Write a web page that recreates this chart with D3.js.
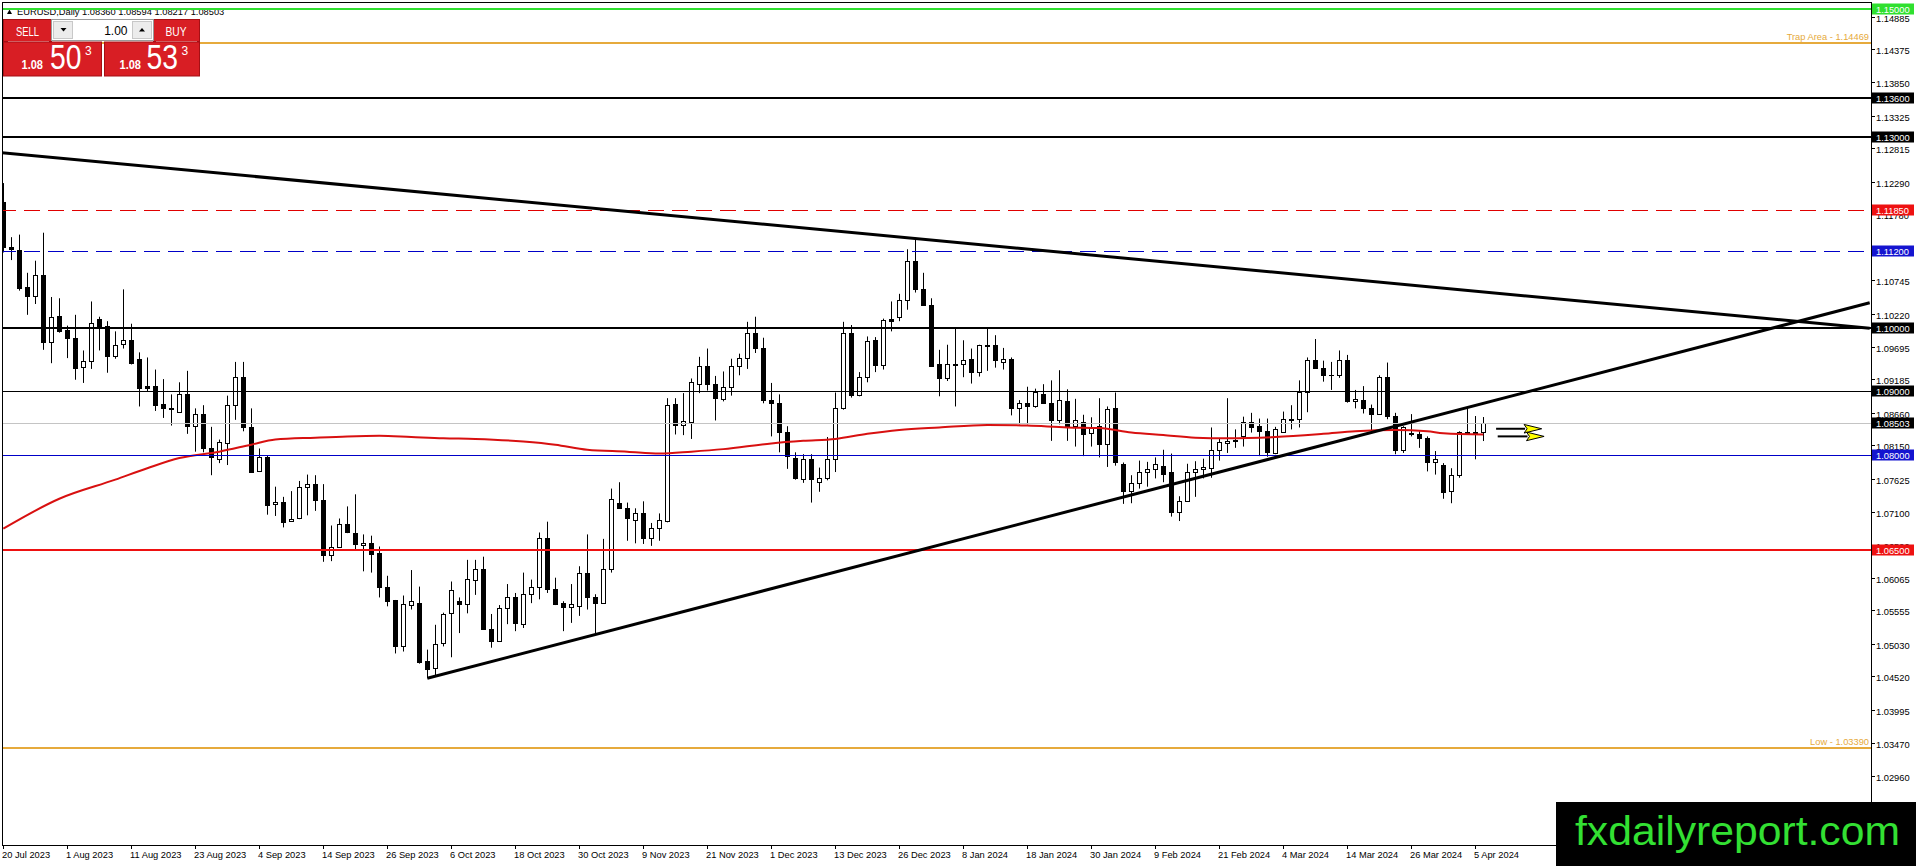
<!DOCTYPE html>
<html><head><meta charset="utf-8">
<script src="https://cdn.jsdelivr.net/npm/d3@7"></script>
<style>
html,body{margin:0;padding:0;background:#fff;overflow:hidden;}
svg{display:block;font-family:"Liberation Sans",Arial,sans-serif;}
</style></head><body>
<svg id="chart" width="1916" height="866"></svg>
<script>
// ---------------- DATA ----------------
const symbolTitle = "EURUSD,Daily";
const open = [1.1198,1.1126,1.1122,1.1063,1.1050,1.1083,1.0977,1.1018,1.0996,1.0983,
1.0938,1.0947,1.1013,1.1002,1.0955,1.0974,1.0981,1.0951,1.0908,1.0908,
1.0880,1.0874,1.0868,1.0895,1.0846,1.0864,1.0811,1.0794,1.0819,1.0879,
1.0923,1.0843,1.0775,1.0796,1.0722,1.0726,1.0696,1.0700,1.0750,1.0754,
1.0729,1.0642,1.0656,1.0692,1.0678,1.0658,1.0661,1.0646,1.0592,1.0572,
1.0500,1.0564,1.0568,1.0476,1.0465,1.0504,1.0552,1.0571,1.0566,1.0604,
1.0620,1.0527,1.0507,1.0560,1.0577,1.0535,1.0582,1.0593,1.0670,1.0590,
1.0567,1.0561,1.0562,1.0615,1.0576,1.0568,1.0621,1.0725,1.0716,1.0698,
1.0708,1.0669,1.0685,1.0696,1.0880,1.0847,1.0851,1.0912,1.0940,1.0912,
1.0888,1.0906,1.0939,1.0952,1.0992,1.0968,1.0886,1.0881,1.0836,1.0795,
1.0762,1.0793,1.0758,1.0764,1.0794,1.0873,1.0992,1.0894,1.0923,1.0981,
1.0941,1.1013,1.1017,1.1043,1.1105,1.1061,1.1035,1.0942,1.0920,1.0943,
1.0942,1.0951,1.0930,1.0972,1.0973,1.0946,1.0950,1.0874,1.0882,1.0876,
1.0895,1.0882,1.0854,1.0884,1.0846,1.0851,1.0834,1.0846,1.0817,1.0873,
1.0786,1.0743,1.0756,1.0773,1.0777,1.0783,1.0773,1.0710,1.0728,1.0773,
1.0777,1.0779,1.0807,1.0818,1.0823,1.0829,1.0851,1.0845,1.0838,1.0803,
1.0836,1.0854,1.0856,1.0899,1.0949,1.0937,1.0926,1.0926,1.0949,1.0885,
1.0886,1.0873,1.0864,1.0922,1.0861,1.0808,1.0835,1.0832,1.0827,1.0789,
1.0784,1.0743,1.0769,1.0836,1.0836,1.08360];
const high = [1.1227,1.1142,1.1146,1.1086,1.1105,1.1149,1.1048,1.1046,1.1003,1.1020,
1.0964,1.1041,1.1017,1.1010,1.0994,1.1060,1.1006,1.0961,1.0953,1.0934,
1.0919,1.0895,1.0914,1.0932,1.0873,1.0878,1.0844,1.0824,1.0893,1.0946,
1.0946,1.0873,1.0810,1.0799,1.0750,1.0734,1.0743,1.0759,1.0769,1.0768,
1.0754,1.0689,1.0700,1.0719,1.0738,1.0675,1.0673,1.0656,1.0610,1.0572,
1.0579,1.0619,1.0593,1.0494,1.0533,1.0552,1.0601,1.0576,1.0635,1.0635,
1.0640,1.0550,1.0564,1.0597,1.0583,1.0615,1.0604,1.0678,1.0695,1.0607,
1.0570,1.0597,1.0625,1.0675,1.0581,1.0668,1.0747,1.0757,1.0725,1.0716,
1.0727,1.0693,1.0708,1.0889,1.0889,1.0897,1.0920,1.0954,1.0967,1.0924,
1.0931,1.0951,1.0959,1.1009,1.1017,1.0984,1.0913,1.0895,1.0845,1.0804,
1.0801,1.0801,1.0780,1.0828,1.0898,1.1009,1.1004,1.0930,1.0986,1.0985,
1.1014,1.1041,1.1053,1.1123,1.1141,1.1086,1.1046,1.0965,1.0973,1.0998,
1.0980,1.0967,1.0973,1.0999,1.0988,1.0968,1.0953,1.0886,1.0907,1.0904,
1.0911,1.0917,1.0933,1.0903,1.0888,1.0863,1.0859,1.0889,1.0876,1.0898,
1.0788,1.0768,1.0791,1.0789,1.0796,1.0808,1.0802,1.0735,1.0786,1.0790,
1.0794,1.0843,1.0825,1.0889,1.0840,1.0860,1.0866,1.0857,1.0857,1.0844,
1.0868,1.0878,1.0917,1.0953,1.0982,1.0948,1.0946,1.0964,1.0957,1.0902,
1.0908,1.0879,1.0925,1.0945,1.0866,1.0845,1.0864,1.0837,1.0829,1.0806,
1.0787,1.0779,1.0837,1.0874,1.0861,1.08594];
const low = [1.1118,1.1106,1.1058,1.1020,1.1037,1.0965,1.0944,1.0992,1.0952,1.0918,
1.0913,1.0935,1.0964,1.0929,1.0951,1.0967,1.0942,1.0876,1.0899,1.0869,
1.0858,1.0846,1.0867,1.0833,1.0805,1.0804,1.0768,1.0787,1.0784,1.0855,
1.0837,1.0772,1.0773,1.0706,1.0704,1.0686,1.0695,1.0699,1.0705,1.0712,
1.0632,1.0633,1.0655,1.0677,1.0651,1.0617,1.0615,1.0576,1.0562,1.0488,
1.0491,1.0557,1.0472,1.0449,1.0454,1.0499,1.0482,1.0520,1.0551,1.0580,
1.0525,1.0497,1.0507,1.0534,1.0523,1.0528,1.0567,1.0573,1.0583,1.0564,
1.0523,1.0536,1.0547,1.0557,1.0520,1.0567,1.0615,1.0716,1.0665,1.0661,
1.0660,1.0657,1.0665,1.0694,1.0832,1.0831,1.0825,1.0897,1.0901,1.0854,
1.0884,1.0893,1.0925,1.0935,1.0960,1.0881,1.0829,1.0804,1.0778,1.0761,
1.0756,1.0725,1.0742,1.0760,1.0773,1.0871,1.0890,1.0892,1.0914,1.0930,
1.0934,1.0994,1.1010,1.1028,1.1055,1.1034,1.0938,1.0892,1.0916,1.0876,
1.0922,1.0912,1.0923,1.0932,1.0937,1.0934,1.0862,1.0848,1.0848,1.0874,
1.0880,1.0822,1.0848,1.0822,1.0813,1.0798,1.0813,1.0796,1.0781,1.0783,
1.0723,1.0724,1.0747,1.0750,1.0763,1.0757,1.0703,1.0696,1.0726,1.0734,
1.0763,1.0764,1.0791,1.0803,1.0811,1.0813,1.0835,1.0798,1.0797,1.0801,
1.0835,1.0840,1.0843,1.0867,1.0937,1.0915,1.0902,1.0921,1.0882,1.0873,
1.0865,1.0837,1.0864,1.0856,1.0801,1.0803,1.0829,1.0811,1.0774,1.0769,
1.0731,1.0724,1.0764,1.0832,1.0793,1.08217];
const close = [1.1126,1.1123,1.1062,1.1050,1.1083,1.0977,1.1016,1.0995,1.0983,1.0936,
1.0948,1.1007,1.1000,1.0955,1.0973,1.0980,1.0945,1.0905,1.0905,1.0879,
1.0873,1.0872,1.0895,1.0846,1.0864,1.0810,1.0796,1.0820,1.0879,1.0923,
1.0843,1.0773,1.0796,1.0721,1.0726,1.0695,1.0699,1.0750,1.0754,1.0729,
1.0642,1.0656,1.0692,1.0679,1.0660,1.0662,1.0644,1.0592,1.0571,1.0500,
1.0565,1.0571,1.0475,1.0463,1.0503,1.0550,1.0587,1.0566,1.0605,1.0620,
1.0527,1.0507,1.0560,1.0577,1.0536,1.0582,1.0593,1.0670,1.0590,1.0566,
1.0561,1.0565,1.0615,1.0576,1.0568,1.0621,1.0731,1.0717,1.0700,1.0709,
1.0669,1.0685,1.0698,1.0878,1.0847,1.0853,1.0915,1.0940,1.0912,1.0890,
1.0906,1.0940,1.0952,1.0992,1.0968,1.0886,1.0882,1.0836,1.0798,1.0764,
1.0794,1.0762,1.0764,1.0794,1.0873,1.0992,1.0894,1.0923,1.0979,1.0941,
1.1012,1.1010,1.1043,1.1104,1.1060,1.1035,1.0939,1.0920,1.0943,1.0941,
1.0949,1.0930,1.0972,1.0971,1.0949,1.0950,1.0874,1.0882,1.0876,1.0898,
1.0881,1.0854,1.0886,1.0846,1.0854,1.0833,1.0842,1.0817,1.0872,1.0788,
1.0743,1.0756,1.0773,1.0777,1.0785,1.0770,1.0710,1.0728,1.0773,1.0777,
1.0781,1.0807,1.0820,1.0822,1.0821,1.0851,1.0844,1.0837,1.0804,1.0840,
1.0856,1.0856,1.0899,1.0949,1.0937,1.0925,1.0926,1.0949,1.0885,1.0888,
1.0873,1.0864,1.0922,1.0861,1.0808,1.0843,1.0832,1.0827,1.0789,1.0794,
1.0741,1.0769,1.0836,1.0833,1.0834,1.08503];

// moving average (bar index, value)
const maBars   = [0,7,14,18,22,27,31,34,39,43,47,51,55,59,65,69,73,78,82,86,90,96,100,104,108,112,117,123,128,133,137,141,145,149,153,159,165,169,174,178,180,185];
const maValues = [1.0684,1.0731,1.0761,1.0779,1.0795,1.0805,1.0816,1.0824,1.0827,1.0829,1.0830,1.0828,1.0826,1.0825,1.0821,1.0816,1.0808,1.0805,1.0802,1.0805,1.0809,1.0818,1.0822,1.0825,1.0833,1.0839,1.0843,1.0847,1.0846,1.0843,1.0842,1.0835,1.0831,1.0827,1.0826,1.0828,1.0833,1.0837,1.0839,1.0837,1.0834,1.0832];

const dateTickBars = [0,8,16,24,32,40,48,56,64,72,80,88,96,104,112,120,128,136,144,152,160,168,176,184];
const dateTickLabels = ["20 Jul 2023","1 Aug 2023","11 Aug 2023","23 Aug 2023","4 Sep 2023","14 Sep 2023","26 Sep 2023","6 Oct 2023","18 Oct 2023","30 Oct 2023","9 Nov 2023","21 Nov 2023","1 Dec 2023","13 Dec 2023","26 Dec 2023","8 Jan 2024","18 Jan 2024","30 Jan 2024","9 Feb 2024","21 Feb 2024","4 Mar 2024","14 Mar 2024","26 Mar 2024","5 Apr 2024"];

const priceTicks = [1.14885,1.14375,1.13850,1.13325,1.12815,1.12290,1.11780,1.11255,1.10745,1.10220,1.09695,1.09185,1.08660,1.08150,1.07625,1.07100,1.06590,1.06065,1.05555,1.05030,1.04520,1.03995,1.03470,1.02960];

const levelPrices = [1.15000,1.14469,1.13600,1.13000,1.11850,1.11200,1.10000,1.09000,1.08503,1.08000,1.06500,1.03390];
const levelKinds  = ["green","trap","black","black","redDash","blueDash","black","blackThin","current","blue","red","low"];
const levelTexts  = ["","Trap Area - 1.14469","","","","","","","","","","Low - 1.03390"];

// trend lines: [bar, price] start and end
const trendStart = [[-0.4,1.1275],[53,1.0449]];
const trendEnd   = [[233.3,1.0999],[233.3,1.1039]];

// yellow arrow objects: start bar, head bar, tip bar, price
const arrowStart = [186.6,186.8];
const arrowHead  = [190.1,190.4];
const arrowTip   = [192.3,192.6];
const arrowPrice = [1.0841,1.0829];

const sellPrice = ["1.08","50","3"];
const buyPrice  = ["1.08","53","3"];
const lotSize = "1.00";
const lastBar = [1.08360,1.08594,1.08217,1.08503];

// ---------------- DRAW ----------------
const svg = d3.select("#chart");
const W = 1916, H = 866, R = 1871, B = 845;
const x = d3.scaleLinear().domain([0,185]).range([3.3,1483.3]);
const y = d3.scaleLinear().domain([1.03,1.15]).range([773.1,9.3]);
const px = v => Math.round(v)+0.5;
const FS = 9.3;

svg.append("rect").attr("width",W).attr("height",H).attr("fill","#fff");

// title
const title = svg.append("g");
title.append("path").attr("d","M7,14 L12,14 L9.5,9.5 Z").attr("fill","#000");
title.append("text").attr("x",17).attr("y",14.5).attr("font-size",FS).attr("fill","#000")
  .text(symbolTitle + "  " + lastBar.map(v=>v.toFixed(5)).join(" "));

svg.append("defs").append("clipPath").attr("id","clip")
  .append("rect").attr("x",2).attr("y",2).attr("width",R-2).attr("height",B-2);
const g = svg.append("g").attr("clip-path","url(#clip)");

// candles
const idx = d3.range(open.length);
const cg = g.append("g");
cg.selectAll("line.w").data(idx).join("line")
  .attr("x1",i=>Math.floor(x(i))+0.5).attr("x2",i=>Math.floor(x(i))+0.5)
  .attr("y1",i=>y(high[i])).attr("y2",i=>y(low[i]))
  .attr("stroke","#000").attr("stroke-width",1);
cg.selectAll("rect.b").data(idx).join("rect")
  .attr("x",i=>Math.floor(x(i))-1.5).attr("width",4)
  .attr("y",i=>Math.round(y(Math.max(open[i],close[i])))+0.5)
  .attr("height",i=>Math.max(0.01,Math.round(y(Math.min(open[i],close[i])))-Math.round(y(Math.max(open[i],close[i])))))
  .attr("fill",i=>close[i]>=open[i]?"#fff":"#000")
  .attr("stroke","#000").attr("stroke-width",1);

// moving average
g.append("path").datum(d3.range(maBars.length))
  .attr("d",d3.line().x(k=>x(maBars[k])).y(k=>y(maValues[k])).curve(d3.curveMonotoneX))
  .attr("fill","none").attr("stroke","#d81010").attr("stroke-width",2);

// levels
const st = {
  green:{c:"#2fe02f",w:2,box:"#2fe02f"},
  trap:{c:"#e6aa3c",w:2},
  black:{c:"#000",w:2,box:"#000"},
  blackThin:{c:"#000",w:1,box:"#000"},
  redDash:{c:"#e00000",w:1,d:"16,8",box:"#ee1111"},
  blueDash:{c:"#0000c8",w:1,d:"16,8",box:"#1414d0"},
  current:{c:"#c4c4c4",w:1,box:"#000"},
  blue:{c:"#0000c8",w:1,box:"#1414d0"},
  red:{c:"#ee1111",w:2,box:"#ee1111"},
  low:{c:"#e6aa3c",w:2}
};
levelPrices.forEach((p,k)=>{
  const s = st[levelKinds[k]];
  const yy = s.w%2 ? px(y(p)) : Math.round(y(p));
  g.append("line").attr("x1",0).attr("x2",R).attr("y1",yy).attr("y2",yy)
    .attr("stroke",s.c).attr("stroke-width",s.w).attr("stroke-dasharray",s.d||null);
  if(levelTexts[k]) g.append("text").attr("x",R-2).attr("y",yy-3).attr("text-anchor","end")
    .attr("font-size",FS).attr("fill",s.c).text(levelTexts[k]);
});

// trend lines
trendStart.forEach((s,k)=>{
  g.append("line").attr("x1",x(s[0])).attr("y1",y(s[1]))
    .attr("x2",x(trendEnd[k][0])).attr("y2",y(trendEnd[k][1]))
    .attr("stroke","#000").attr("stroke-width",3);
});

// arrows
arrowPrice.forEach((p,k)=>{
  const yy = y(p);
  g.append("line").attr("x1",x(arrowStart[k])).attr("x2",x(arrowHead[k])+1).attr("y1",yy).attr("y2",yy)
    .attr("stroke","#000").attr("stroke-width",2);
  const hb = x(arrowHead[k]), tp = x(arrowTip[k]);
  g.append("path").attr("d",`M${hb},${yy-4.3} L${tp},${yy} L${hb},${yy+4.3} L${hb+3},${yy} Z`)
    .attr("fill","#ffff00").attr("stroke","#000").attr("stroke-width",1);
});

// frame
svg.append("rect").attr("x",2.5).attr("y",2.5).attr("width",R-2).attr("height",B-2)
  .attr("fill","none").attr("stroke","#000").attr("stroke-width",1);

// right axis ticks
const ax = svg.append("g");
priceTicks.forEach(t=>{
  const yy = px(y(t));
  ax.append("line").attr("x1",R).attr("x2",R+4).attr("y1",yy).attr("y2",yy).attr("stroke","#000");
  ax.append("text").attr("x",R+5).attr("y",yy+4).attr("font-size",FS).attr("fill","#000").text(t.toFixed(5));
});
// level boxes
levelPrices.forEach((p,k)=>{
  const s = st[levelKinds[k]];
  if(!s.box) return;
  const yy = Math.round(y(p));
  ax.append("rect").attr("x",R+1).attr("y",yy-5.5).attr("width",42).attr("height",11).attr("fill",s.box);
  ax.append("text").attr("x",R+5).attr("y",yy+3.8).attr("font-size",FS).attr("fill","#fff").text(p.toFixed(5));
});

// bottom axis
dateTickBars.forEach((b,k)=>{
  const xx = Math.floor(x(b))+0.5;
  ax.append("line").attr("x1",xx).attr("x2",xx).attr("y1",B).attr("y2",B+4).attr("stroke","#000");
  ax.append("text").attr("x",xx-1.5).attr("y",858).attr("font-size",FS).attr("fill","#000").text(dateTickLabels[k]);
});

// one-click trading panel
const pn = svg.append("g");
const red = "#d81e24", redDark = "#a50f14";
pn.append("rect").attr("x",3.5).attr("y",19.5).attr("width",48).attr("height",22).attr("fill",red).attr("stroke",redDark);
pn.append("rect").attr("x",153.5).attr("y",19.5).attr("width",46).attr("height",22).attr("fill",red).attr("stroke",redDark);
pn.append("line").attr("x1",8).attr("x2",49).attr("y1",41.5).attr("y2",41.5).attr("stroke","#f6b0b0");
pn.append("line").attr("x1",156).attr("x2",197).attr("y1",41.5).attr("y2",41.5).attr("stroke","#f6b0b0");
pn.append("text").attr("x",27.5).attr("y",35.5).attr("text-anchor","middle").attr("font-size",12.5).attr("fill","#fff")
  .attr("textLength",23).attr("lengthAdjust","spacingAndGlyphs").text("SELL");
pn.append("text").attr("x",176).attr("y",35.5).attr("text-anchor","middle").attr("font-size",12.5).attr("fill","#fff")
  .attr("textLength",21).attr("lengthAdjust","spacingAndGlyphs").text("BUY");
// lot box
pn.append("rect").attr("x",51.5).attr("y",19.5).attr("width",102).attr("height",21).attr("fill","#fff").attr("stroke","#9a9a9a");
pn.append("rect").attr("x",53.5).attr("y",21.5).attr("width",19).attr("height",17).attr("fill","#ececec").attr("stroke","#c8c8c8");
pn.append("rect").attr("x",132.5).attr("y",21.5).attr("width",19).attr("height",17).attr("fill","#ececec").attr("stroke","#c8c8c8");
pn.append("path").attr("d","M60.5,28 L66.5,28 L63.5,31.5 Z").attr("fill","#000");
pn.append("path").attr("d","M139,31.5 L145,31.5 L142,28 Z").attr("fill","#000");
pn.append("text").attr("x",127.5).attr("y",34.5).attr("text-anchor","end").attr("font-size",12).attr("fill","#000").text(lotSize);
// price boxes
[[3.5,98,sellPrice,[21.5,50,85]],[104.5,95,buyPrice,[119.5,146.5,181.5]]].forEach(([bx,bw,pr,pos])=>{
  pn.append("rect").attr("x",bx).attr("y",42).attr("width",bw).attr("height",34).attr("fill",red).attr("stroke",redDark);
  pn.append("text").attr("x",pos[0]).attr("y",68.5).attr("font-size",12.5).attr("fill","#fff").attr("font-weight","bold")
    .attr("textLength",21.5).attr("lengthAdjust","spacingAndGlyphs").text(pr[0]);
  pn.append("text").attr("x",pos[1]).attr("y",68.5).attr("font-size",35).attr("fill","#fff")
    .attr("textLength",31.5).attr("lengthAdjust","spacingAndGlyphs").text(pr[1]);
  pn.append("text").attr("x",pos[2]).attr("y",55).attr("font-size",12).attr("fill","#fff").text(pr[2]);
});

// watermark
svg.append("rect").attr("x",1556).attr("y",802).attr("width",360).attr("height",64).attr("fill","#000");
svg.append("text").attr("x",1575).attr("y",845).attr("font-size",41).attr("fill","#33e033")
  .attr("textLength",325).attr("lengthAdjust","spacingAndGlyphs").text("fxdailyreport.com");
</script>
</body></html>
